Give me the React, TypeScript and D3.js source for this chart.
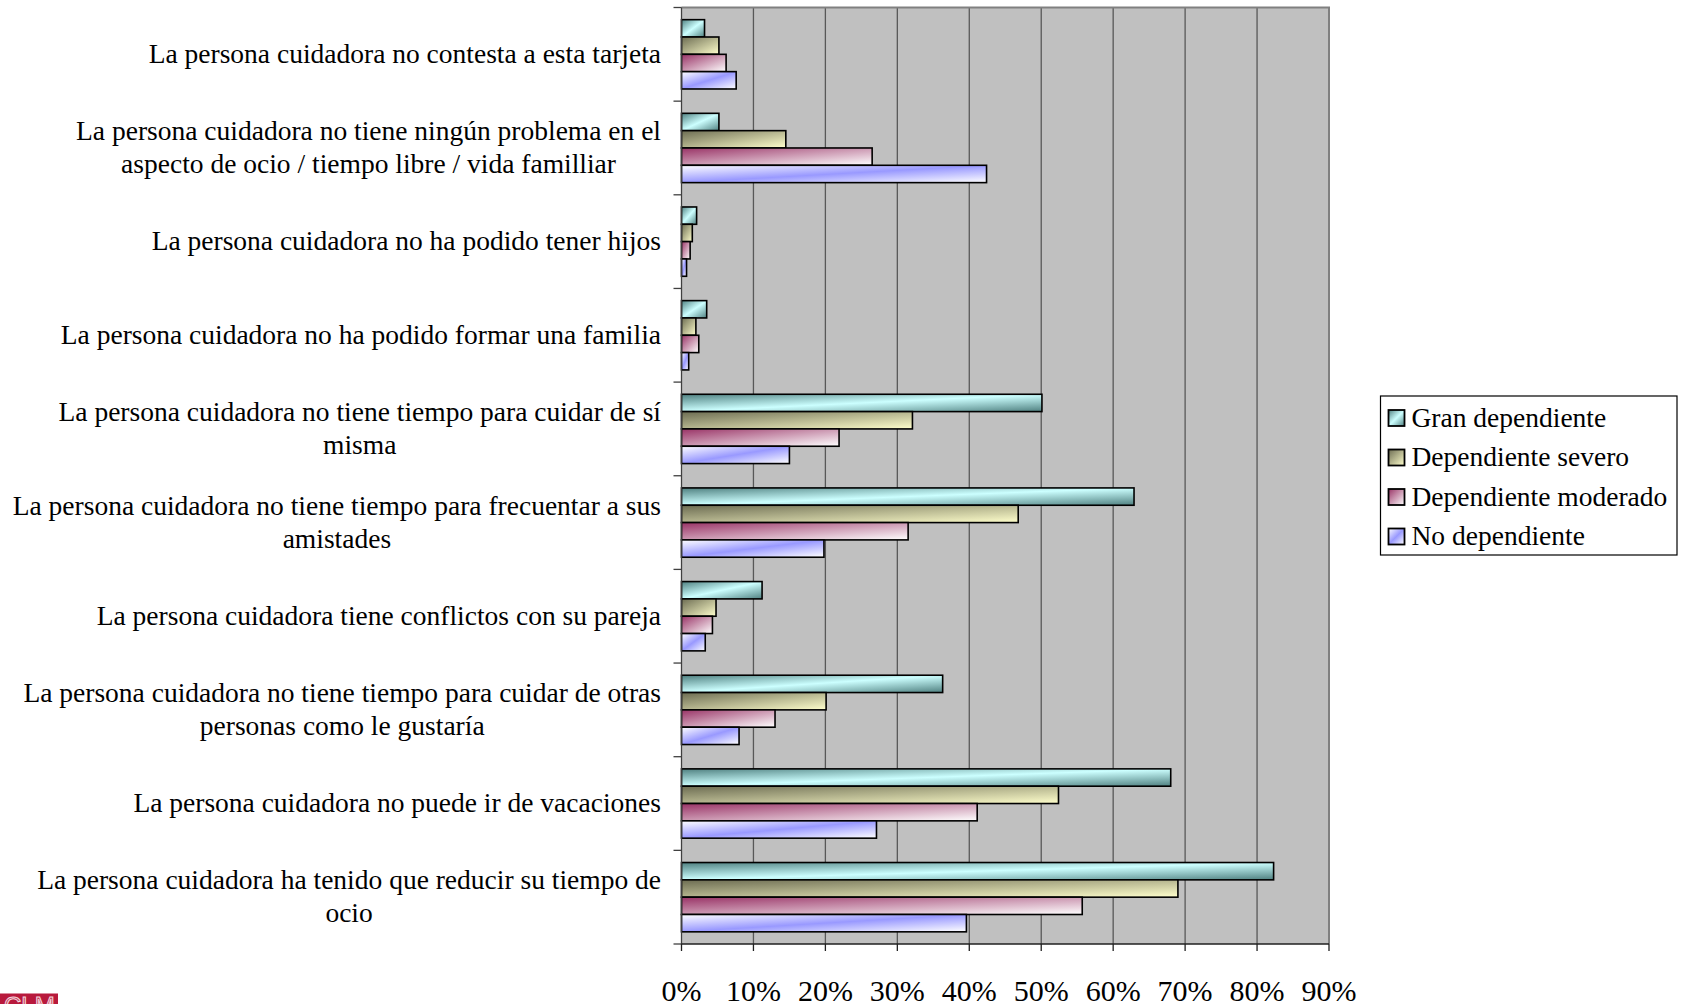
import React, { useEffect, useRef } from "react";
import * as d3 from "d3";

// Categories, listed top to bottom; each entry holds the wrapped label lines.
const categories: string[][] = [
  ["La persona cuidadora no contesta a esta tarjeta"],
  ["La persona cuidadora no tiene ningún problema en el", "aspecto de ocio / tiempo libre / vida familliar"],
  ["La persona cuidadora no ha podido tener hijos"],
  ["La persona cuidadora no ha podido formar una familia"],
  ["La persona cuidadora no tiene tiempo para cuidar de sí", "misma"],
  ["La persona cuidadora no tiene tiempo para frecuentar a sus", "amistades"],
  ["La persona cuidadora tiene conflictos con su pareja"],
  ["La persona cuidadora no tiene tiempo para cuidar de otras", "personas como le gustaría"],
  ["La persona cuidadora no puede ir de vacaciones"],
  ["La persona cuidadora ha tenido que reducir su tiempo de", "ocio"],
];

const seriesNames = ["Gran dependiente", "Dependiente severo", "Dependiente moderado", "No dependiente"];

// Percentages per category (same order as categories)
const granDependiente = [3.2, 5.2, 2.1, 3.5, 50.1, 62.9, 11.2, 36.3, 68.0, 82.3];
const dependienteSevero = [5.2, 14.5, 1.5, 2.0, 32.1, 46.8, 4.8, 20.1, 52.4, 69.0];
const dependienteModerado = [6.2, 26.5, 1.2, 2.4, 21.9, 31.5, 4.3, 13.0, 41.1, 55.7];
const noDependiente = [7.6, 42.4, 0.7, 1.0, 15.0, 19.8, 3.3, 8.0, 27.1, 39.6];

const xTicks = [0, 10, 20, 30, 40, 50, 60, 70, 80, 90];

// Gradient fills for each series (diagonal, stretched over the bar)
const gradientStops: [number, string][][] = [
  [[0, "#4f8080"], [0.5, "#ccffff"], [1, "#4f8080"]],
  [[0, "#6c6c52"], [1, "#ffffcc"]],
  [[0, "#993366"], [1, "#ffffff"]],
  [[0, "#ffffff"], [0.5, "#9999ff"], [1, "#ffffff"]],
];

const W = 1685;
const H = 1004;
const FONT = "'Liberation Serif', 'Times New Roman', serif";

export default function App() {
  const ref = useRef<SVGSVGElement | null>(null);

  useEffect(() => {
    const svg = d3.select(ref.current);
    svg.selectAll("*").remove();

    const plot = { left: 681.5, right: 1329, top: 7.5, bottom: 944 };
    const series = [granDependiente, dependienteSevero, dependienteModerado, noDependiente];

    const x = d3.scaleLinear().domain([0, 90]).range([plot.left, plot.right]);
    const y = d3
      .scaleBand<number>()
      .domain(d3.range(categories.length))
      .range([plot.top, plot.bottom])
      .paddingInner(0.26)
      .paddingOuter(0.13);
    const ySub = d3.scaleBand<number>().domain(d3.range(series.length)).range([0, y.bandwidth()]);

    const defs = svg.append("defs");
    gradientStops.forEach((stops, i) => {
      const g = defs
        .append("linearGradient")
        .attr("id", `grad${i}`)
        .attr("x1", 0)
        .attr("y1", 0)
        .attr("x2", 1)
        .attr("y2", 1);
      stops.forEach(([o, c]) => g.append("stop").attr("offset", o).attr("stop-color", c));
    });

    // plot area
    svg
      .append("rect")
      .attr("x", plot.left)
      .attr("y", plot.top)
      .attr("width", plot.right - plot.left)
      .attr("height", plot.bottom - plot.top)
      .attr("fill", "#c0c0c0");

    // vertical gridlines
    svg
      .append("g")
      .selectAll("line")
      .data(xTicks.slice(1, -1))
      .join("line")
      .attr("x1", (d) => x(d))
      .attr("x2", (d) => x(d))
      .attr("y1", plot.top)
      .attr("y2", plot.bottom)
      .attr("stroke", "#585858")
      .attr("stroke-width", 1.3);

    // top and right border
    svg
      .append("path")
      .attr("d", `M${plot.left},${plot.top}H${plot.right}V${plot.bottom}`)
      .attr("fill", "none")
      .attr("stroke", "#808080")
      .attr("stroke-width", 2);

    // bars
    const groups = svg
      .append("g")
      .selectAll("g")
      .data(categories.map((_, i) => i))
      .join("g")
      .attr("transform", (i) => `translate(0,${y(i)})`);

    groups
      .selectAll("rect")
      .data((i) => series.map((s, k) => ({ k, v: s[i] })))
      .join("rect")
      .attr("x", x(0))
      .attr("y", (d) => ySub(d.k)!)
      .attr("width", (d) => x(d.v) - x(0))
      .attr("height", ySub.bandwidth())
      .attr("fill", (d) => `url(#grad${d.k})`)
      .attr("stroke", "#000")
      .attr("stroke-width", 1.6);

    // left axis with ticks at category boundaries
    const step = y.step();
    svg
      .append("line")
      .attr("x1", plot.left)
      .attr("x2", plot.left)
      .attr("y1", plot.top)
      .attr("y2", plot.bottom)
      .attr("stroke", "#404040")
      .attr("stroke-width", 1.3);
    svg
      .append("g")
      .selectAll("line")
      .data(d3.range(categories.length + 1))
      .join("line")
      .attr("x1", plot.left - 8)
      .attr("x2", plot.left)
      .attr("y1", (i) => plot.top + i * step)
      .attr("y2", (i) => plot.top + i * step)
      .attr("stroke", "#404040")
      .attr("stroke-width", 1.3);

    // bottom axis
    svg
      .append("line")
      .attr("x1", plot.left)
      .attr("x2", plot.right)
      .attr("y1", plot.bottom)
      .attr("y2", plot.bottom)
      .attr("stroke", "#202020")
      .attr("stroke-width", 1.3);
    svg
      .append("g")
      .selectAll("line")
      .data(xTicks)
      .join("line")
      .attr("x1", (d) => x(d))
      .attr("x2", (d) => x(d))
      .attr("y1", plot.bottom)
      .attr("y2", plot.bottom + 7)
      .attr("stroke", "#202020")
      .attr("stroke-width", 1.3);

    svg
      .append("g")
      .selectAll("text")
      .data(xTicks)
      .join("text")
      .attr("x", (d) => x(d))
      .attr("y", 1001)
      .attr("text-anchor", "middle")
      .attr("font-family", FONT)
      .attr("font-size", 30)
      .attr("fill", "#000")
      .text((d) => `${d}%`);

    // category labels: wrapped lines centred on each other, block right-aligned
    const labelRight = 661;
    const lineH = 33;
    categories.forEach((lines, i) => {
      const cy = plot.top + (i + 0.5) * step;
      const g = svg.append("g");
      const texts = lines.map((line, j) =>
        g
          .append("text")
          .attr("y", cy - ((lines.length - 1) * lineH) / 2 + j * lineH + 8.5)
          .attr("font-family", FONT)
          .attr("font-size", 27.5)
          .attr("fill", "#000")
          .attr("text-anchor", "middle")
          .text(line)
      );
      const widths = texts.map((t) => (t.node() as SVGTextElement).getComputedTextLength());
      const maxW = d3.max(widths) || 0;
      texts.forEach((t) => t.attr("x", labelRight - maxW / 2));
    });

    // legend
    const lg = svg.append("g");
    lg.append("rect")
      .attr("x", 1380.5)
      .attr("y", 396)
      .attr("width", 296.5)
      .attr("height", 159)
      .attr("fill", "#fff")
      .attr("stroke", "#000")
      .attr("stroke-width", 1.2);
    seriesNames.forEach((name, k) => {
      const rowY = 418 + k * 39.5;
      lg.append("rect")
        .attr("x", 1388.5)
        .attr("y", rowY - 8)
        .attr("width", 16)
        .attr("height", 16)
        .attr("fill", `url(#grad${k})`)
        .attr("stroke", "#000")
        .attr("stroke-width", 1.8);
      lg.append("text")
        .attr("x", 1411.5)
        .attr("y", rowY + 8.5)
        .attr("font-family", FONT)
        .attr("font-size", 27.5)
        .attr("fill", "#000")
        .text(name);
    });

    // corner badge
    const badge = svg.append("g");
    badge.append("rect").attr("x", 0).attr("y", 993.5).attr("width", 58).attr("height", 12).attr("fill", "#b8193c");
    badge
      .append("text")
      .attr("x", 4)
      .attr("y", 1014)
      .attr("font-family", "'Liberation Sans', sans-serif")
      .attr("font-size", 24)
      .attr("fill", "#c8405e")
      .attr("stroke", "#f4d6dc")
      .attr("stroke-width", 1)
      .text("CLM");
  }, []);

  return (
    <div style={{ position: "absolute", left: 0, top: 0, width: W, height: H, overflow: "hidden", background: "#fff" }}>
      <svg ref={ref} width={W} height={H} style={{ display: "block" }} />
    </div>
  );
}
